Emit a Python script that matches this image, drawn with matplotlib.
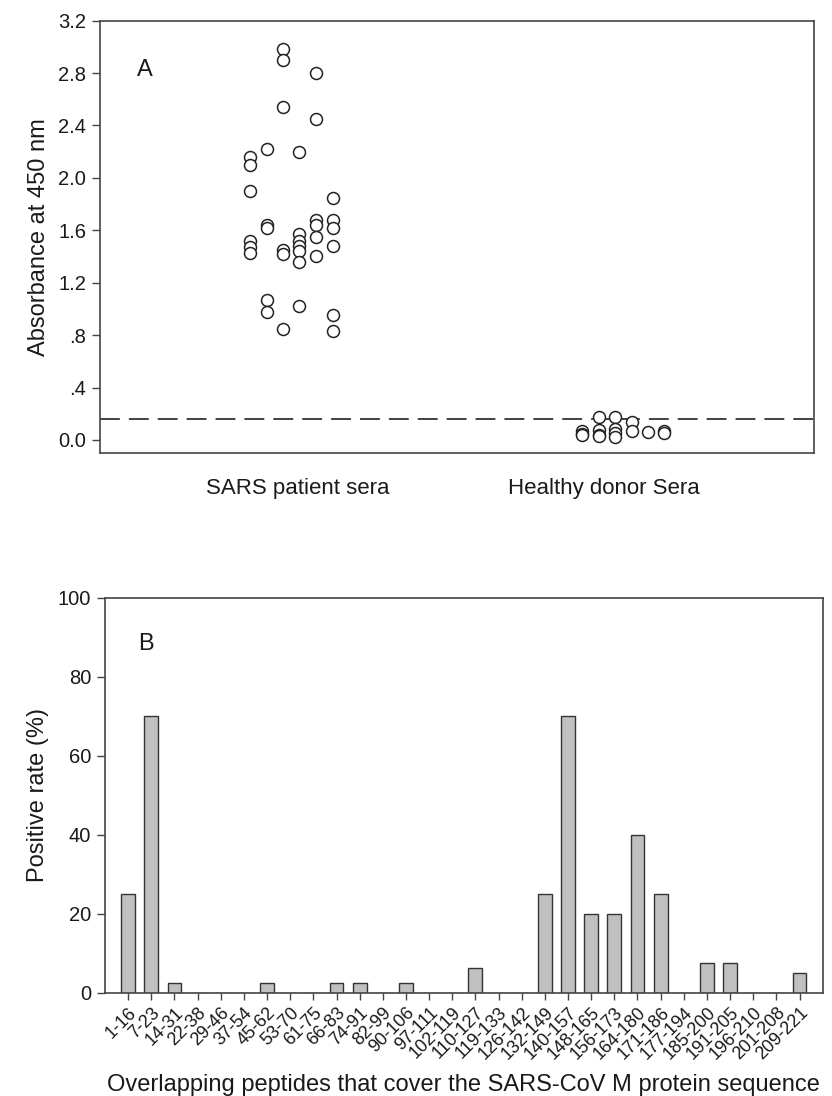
import matplotlib.pyplot as plt

plt.rcParams['font.family'] = ['Liberation Sans', 'DejaVu Sans']

# Panel A: absorbance values (jittered column offset, value)
grupos = ["SARS patient sera", "Healthy donor Sera"]
sars_x = [-0.157] * 6 + [-0.102] * 5 + [-0.050] * 6 + [0.004] * 7 + [0.059] * 6 + [0.113] * 6
sars_y = [2.16, 2.10, 1.90, 1.52, 1.47, 1.43,
          2.22, 1.64, 1.62, 1.07, 0.98,
          2.98, 2.90, 2.54, 1.45, 1.42, 0.85,
          2.20, 1.57, 1.52, 1.48, 1.44, 1.36, 1.02,
          2.80, 2.45, 1.68, 1.64, 1.55, 1.40,
          1.85, 1.68, 1.62, 1.48, 0.95, 0.83]
sadio_x = [-0.073] * 3 + [-0.018] * 4 + [0.036] * 4 + [0.091] * 2 + [0.143] + [0.197] * 2
sadio_y = [0.065, 0.045, 0.04,
           0.178, 0.076, 0.04, 0.03,
           0.173, 0.08, 0.05, 0.025,
           0.14, 0.065,
           0.063,
           0.065, 0.05]
cutoff = 0.158

# Panel B: positive rate per peptide
peptideos = ["1-16", "7-23", "14-31", "22-38", "29-46", "37-54", "45-62", "53-70",
             "61-75", "66-83", "74-91", "82-99", "90-106", "97-111", "102-119",
             "110-127", "119-133", "126-142", "132-149", "140-157", "148-165",
             "156-173", "164-180", "171-186", "177-194", "185-200", "191-205",
             "196-210", "201-208", "209-221"]
taxa = [25, 70, 2.5, 0, 0, 0, 2.5, 0, 0, 2.5, 2.5, 0, 2.5, 0, 0,
        6.25, 0, 0, 25, 70, 20, 20, 40, 25, 0, 7.5, 7.5, 0, 0, 5]

cor_texto = '#1a1a1a'
cor_eixo = '#444444'

fig = plt.figure(figsize=(8.32, 10.96), dpi=100)

# ---- A ----
axA = fig.add_axes([0.1202, 0.5870, 0.8582, 0.3942])
axA.scatter([1 + dx for dx in sars_x], sars_y, s=74, facecolors='white',
            edgecolors='#222222', linewidths=1.1, zorder=3)
axA.scatter([2 + dx for dx in sadio_x], sadio_y, s=74, facecolors='white',
            edgecolors='#222222', linewidths=1.1, zorder=3)
axA.axhline(cutoff, color='#333333', linewidth=1.3, linestyle=(0, (11, 5)), zorder=2)
axA.set_xlim(0.353, 2.686)
axA.set_ylim(-0.097, 3.2)
axA.set_xticks([1, 2])
axA.set_xticklabels(grupos, fontsize=16, color=cor_texto)
axA.tick_params(axis='x', length=0, pad=18)
yt = [0.0, 0.4, 0.8, 1.2, 1.6, 2.0, 2.4, 2.8, 3.2]
axA.set_yticks(yt)
axA.set_yticklabels(["0.0", ".4", ".8", "1.2", "1.6", "2.0", "2.4", "2.8", "3.2"],
                    fontsize=14.5, color=cor_texto)
axA.tick_params(axis='y', length=6, width=1, color=cor_eixo, pad=4)
axA.set_ylabel("Absorbance at 450 nm", fontsize=17, color=cor_texto, labelpad=6)
axA.text(0.052, 0.886, "A", transform=axA.transAxes, fontsize=17,
         color=cor_texto, va='center', ha='left')
for s in axA.spines.values():
    s.set_color(cor_eixo)
    s.set_linewidth(1.2)

# ---- B ----
axB = fig.add_axes([0.1262, 0.0940, 0.8626, 0.3604])
pos = list(range(len(peptideos)))
axB.bar(pos, taxa, width=0.6, color='#c0c0c0', edgecolor='#333333', linewidth=1.0)
axB.set_xlim(-1, len(peptideos))
axB.set_ylim(0, 100)
axB.set_xticks(pos)
axB.set_xticklabels(peptideos, rotation=45, ha='right', rotation_mode='anchor',
                    fontsize=13, color=cor_texto)
axB.tick_params(axis='x', length=5, width=1, color=cor_eixo, pad=3)
axB.set_yticks([0, 20, 40, 60, 80, 100])
axB.set_yticklabels(["0", "20", "40", "60", "80", "100"], fontsize=14.5, color=cor_texto)
axB.tick_params(axis='y', length=6, width=1, color=cor_eixo, pad=4)
axB.set_ylabel("Positive rate (%)", fontsize=17, color=cor_texto, labelpad=6)
axB.set_xlabel("Overlapping peptides that cover the SARS-CoV M protein sequence",
               fontsize=17, color=cor_texto, labelpad=8)
axB.text(0.046, 0.884, "B", transform=axB.transAxes, fontsize=17,
         color=cor_texto, va='center', ha='left')
for s in axB.spines.values():
    s.set_color(cor_eixo)
    s.set_linewidth(1.2)

fig.savefig("out.png", dpi=100)
